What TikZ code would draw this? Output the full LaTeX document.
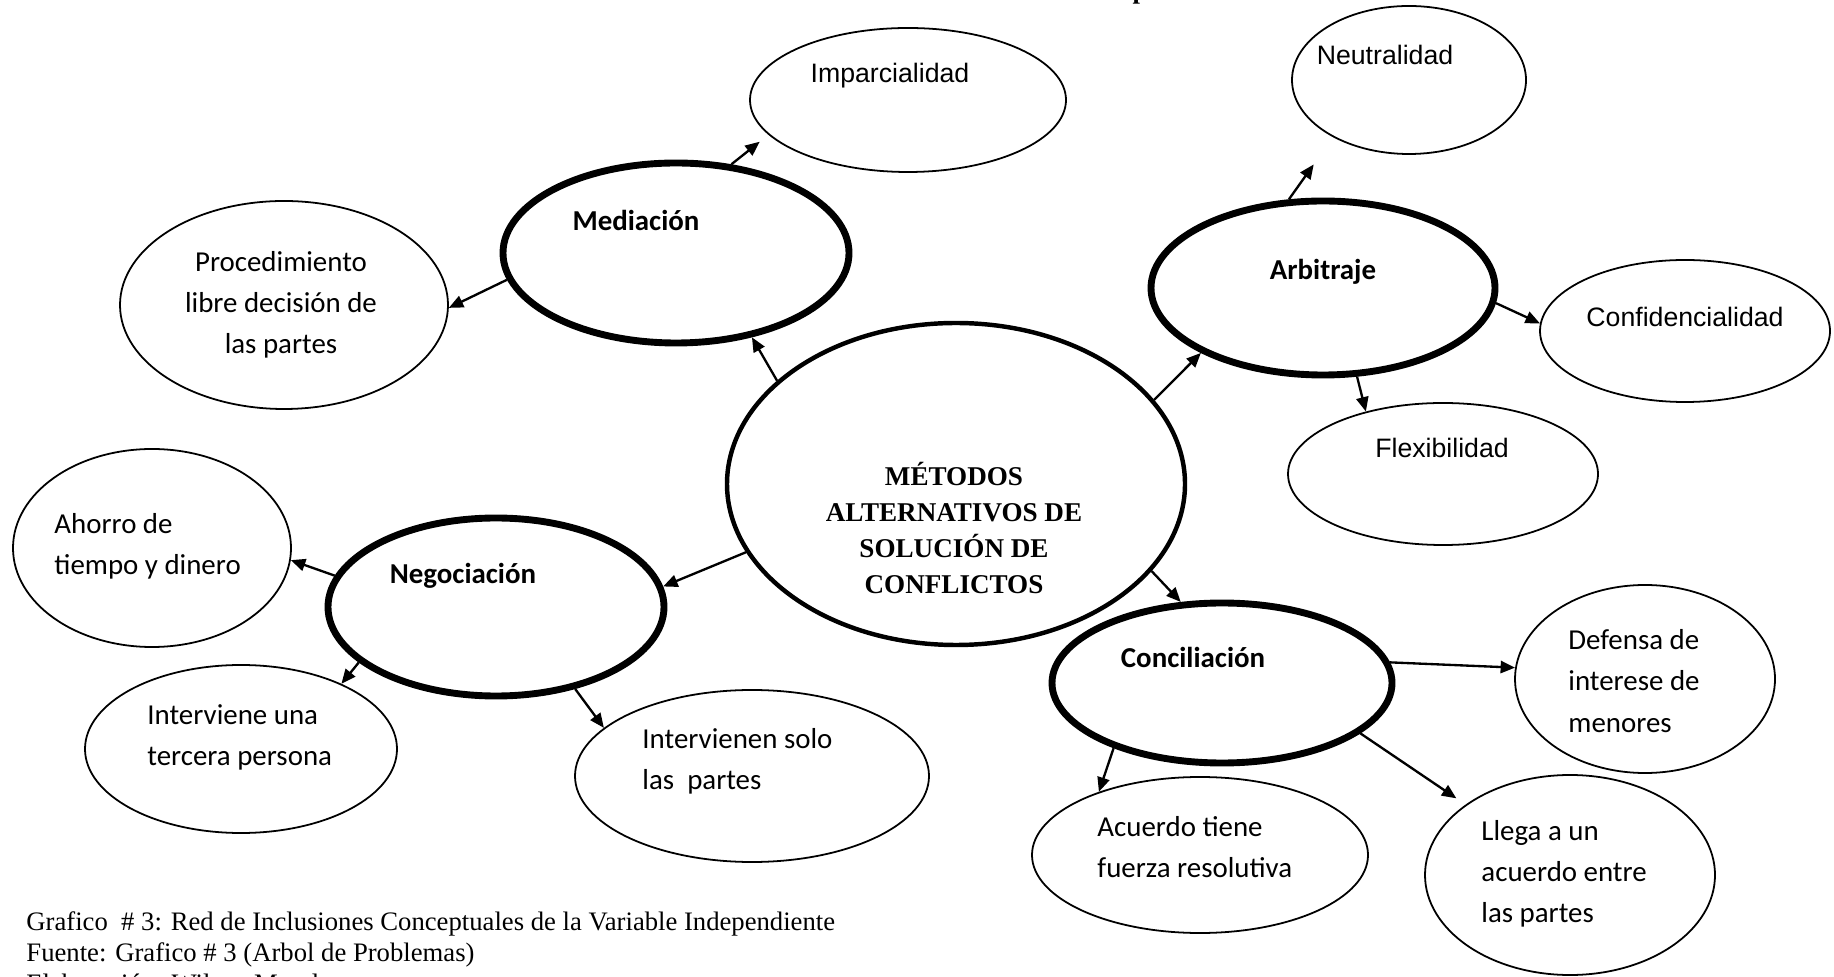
\documentclass[tikz,border=0pt]{standalone}
\usepackage{fontspec}
\setmainfont{Liberation Serif}
\newfontfamily\calibri{Carlito}
\newfontfamily\arialfont{Liberation Sans}
\usepackage{tikz}
\usetikzlibrary{arrows.meta, shapes.geometric}

\begin{document}
\begin{tikzpicture}[
  x=0.45pt, y=-0.45pt,
  hub/.style={ellipse, draw, line width=2pt, fill=white, inner sep=0pt},
  metodo/.style={ellipse, draw, line width=3.1pt, fill=white, inner sep=0pt},
  rasgo/.style={ellipse, draw, line width=0.8pt, fill=white, inner sep=0pt},
  lbl/.style={font=\calibri\fontsize{13}{18.5}\selectfont, inner sep=0pt},
  lblb/.style={lbl, font=\calibri\bfseries\fontsize{13}{18.5}\selectfont},
  arl/.style={font=\arialfont\fontsize{12}{14}\selectfont, inner sep=0pt},
  pie/.style={font=\fontsize{12}{14}\selectfont, inner sep=0pt, anchor=base west},
  arr/.style={-{Triangle[length=6.5pt,width=5.5pt]}, line width=1.05pt}
]
\useasboundingbox (0,0) rectangle (1834,977);

% ellipses
\node[hub, minimum width=206.1pt, minimum height=144.9pt] (central) at (956,484) {};
\node[metodo, minimum width=155.7pt, minimum height=81pt] (med) at (676,253) {};
\node[metodo, minimum width=154.8pt, minimum height=78.3pt] (arb) at (1323,288) {};
\node[metodo, minimum width=151.2pt, minimum height=80.1pt] (neg) at (496,607) {};
\node[metodo, minimum width=153pt, minimum height=72pt] (conc) at (1222,683) {};
\node[rasgo, minimum width=142.2pt, minimum height=64.8pt] (imp) at (908,100) {};
\node[rasgo, minimum width=105.3pt, minimum height=66.6pt] (neut) at (1409,80) {};
\node[rasgo, minimum width=147.6pt, minimum height=93.6pt] (proc) at (284,305) {};
\node[rasgo, minimum width=130.5pt, minimum height=63.9pt] (conf) at (1685,331) {};
\node[rasgo, minimum width=139.5pt, minimum height=63.9pt] (flex) at (1443,474) {};
\node[rasgo, minimum width=125.1pt, minimum height=89.1pt] (ahorro) at (152,548) {};
\node[rasgo, minimum width=140.4pt, minimum height=75.6pt] (inter1) at (241,749) {};
\node[rasgo, minimum width=159.3pt, minimum height=77.4pt] (inter2) at (752,776) {};
\node[rasgo, minimum width=117pt, minimum height=84.6pt] (def) at (1645,679) {};
\node[rasgo, minimum width=151.2pt, minimum height=70.2pt] (acu) at (1200,855) {};
\node[rasgo, minimum width=130.5pt, minimum height=90pt] (llega) at (1570,875) {};

% texts
\node[font=\bfseries\fontsize{12.2}{16.2}\selectfont, align=center, inner sep=0pt] (tcentral) at (954,528) {MÉTODOS\\ALTERNATIVOS DE\\SOLUCIÓN DE\\CONFLICTOS};
\node[lblb] (tmed) at (636,220) {Mediación};
\node[lblb] (tarb) at (1323,272) {Arbitraje};
\node[lblb] (tneg) at (463,576) {Negociación};
\node[lblb] (tconc) at (1193,657) {Conciliación};
\node[arl] (timp) at (890,76) {Imparcialidad};
\node[arl] (tneut) at (1385,55) {Neutralidad};
\node[arl] (tconf) at (1685,317) {Confidencialidad};
\node[arl] (tflex) at (1442,448) {Flexibilidad};
\node[lbl, align=center] (tproc) at (281,305) {Procedimiento\\libre decisión de\\las partes};
\node[lbl, align=left, anchor=west] (tahorro) at (54,546) {Ahorro de\\tiempo y dinero};
\node[lbl, align=left, anchor=west] (tinter1) at (147,737) {Interviene una\\tercera persona};
\node[lbl, align=left, anchor=west] (tinter2) at (642,761) {Intervienen solo\\las\ \ partes};
\node[lbl, align=left, anchor=west] (tdef) at (1568,681) {Defensa de\\interese de\\menores};
\node[lbl, align=left, anchor=west] (tacu) at (1097,847) {Acuerdo tiene\\fuerza resolutiva};
\node[lbl, align=left, anchor=west] (tllega) at (1481,874) {Llega a un\\acuerdo entre\\las partes};

% arrows
\draw[arr] (central.150) -- (med.-48);
\draw[arr, shorten >=5pt] (med.58) -- (imp.-166);
\draw[arr] (med.189) -- (proc.-1);
\draw[arr] (central.23) -- (arb.208);
\draw[arr, shorten >=15pt] (arb.111) -- (neut.217);
\draw[arr] (arb.-5) -- (conf.177);
\draw[arr] (arb.-69) -- (flex.141);
\draw[arr] (central.198) -- (neg.7);
\draw[arr] (neg.169) -- (ahorro.-5);
\draw[arr] (neg.202) -- (inter1.33);
\draw[arr] (neg.-46) -- (inter2.162);
\draw[arr] (central.-24) -- (conc.117);
\draw[arr] (conc.7) -- (def.175);
\draw[arr, shorten >=5pt] (conc.-20) -- (llega.146);
\draw[arr] (conc.211) -- (acu.148);

% title cut off and caption
\node[font=\bfseries\fontsize{12}{14}\selectfont, inner sep=0pt, anchor=base] (titulo) at (1140,-1) {p};
\node[pie] (pie1) at (26,930) {Grafico\ \ \# 3: Red de Inclusiones Conceptuales de la Variable Independiente};
\node[pie] (pie2) at (26,961) {Fuente: Grafico \# 3 (Arbol de Problemas)};
\node[pie] (pie3) at (26,992) {Elaboración: Wilson Morales};
\end{tikzpicture}
\end{document}
